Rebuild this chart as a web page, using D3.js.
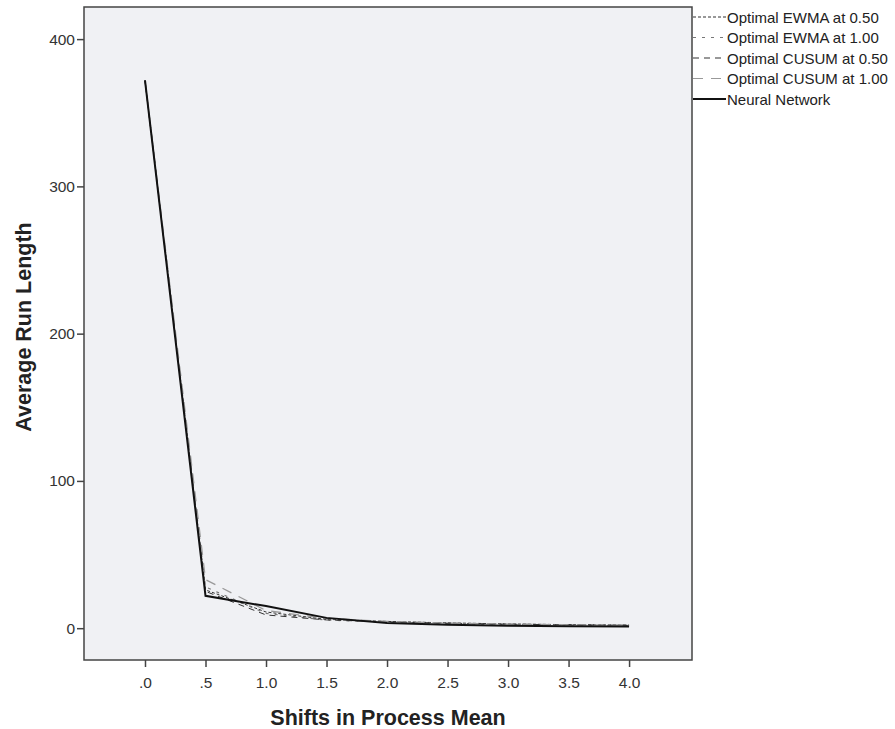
<!DOCTYPE html>
<html><head><meta charset="utf-8">
<script src="https://cdn.jsdelivr.net/npm/d3@7"></script>
<style>body{margin:0;background:#fff;} text{font-family:"Liberation Sans",Arial,sans-serif;}</style>
</head><body><svg id="c" width="895" height="729"></svg>
<script>
const shifts = [0, 0.5, 1.0, 1.5, 2.0, 2.5, 3.0, 3.5, 4.0];
const ewma050 = [372, 26, 11, 6.0, 4.6, 3.6, 2.9, 2.4, 2.1];
const ewma100 = [372, 28, 10, 5.5, 4.1, 3.1, 2.5, 2.1, 1.8];
const cusum050 = [372, 25, 9, 5.6, 4.3, 3.4, 2.7, 2.3, 2.0];
const cusum100 = [372, 33, 12, 6.6, 4.6, 3.5, 2.8, 2.3, 2.0];
const neural = [372, 22, 15, 7.0, 3.5, 2.3, 1.6, 1.3, 1.1];
const seriesNames = ["Optimal EWMA at 0.50","Optimal EWMA at 1.00","Optimal CUSUM at 0.50","Optimal CUSUM at 1.00","Neural Network"];
const xTicks = [0, 0.5, 1.0, 1.5, 2.0, 2.5, 3.0, 3.5, 4.0];
const xTickLabels = [".0", ".5", "1.0", "1.5", "2.0", "2.5", "3.0", "3.5", "4.0"];
const yTicks = [0, 100, 200, 300, 400];

const series = [
  {name: seriesNames[0], values: ewma050, color: "#333", dash: "3,2", w: 1},
  {name: seriesNames[1], values: ewma100, color: "#777", dash: "3,6", w: 1.2},
  {name: seriesNames[2], values: cusum050, color: "#333", dash: "6,5", w: 1},
  {name: seriesNames[3], values: cusum100, color: "#999", dash: "10,8", w: 1.3},
  {name: seriesNames[4], values: neural, color: "#111", dash: null, w: 2}
];

const svg = d3.select("#c");
const L = 84, R = 692, T = 7, B = 660;
const x = d3.scaleLinear().domain([-0.504, 4.52]).range([L, R]);
const y = d3.scaleLinear().domain([-21.6, 421.8]).range([B, T]);

svg.append("rect").attr("x", L).attr("y", T).attr("width", R - L).attr("height", B - T)
  .attr("fill", "#f0f1f4").attr("stroke", "#444").attr("stroke-width", 1.5);

const line = d3.line().x((d, i) => x(shifts[i])).y(d => y(d));
const g = svg.append("g");
series.forEach(s => {
  g.append("path").datum(s.values).attr("d", line).attr("fill", "none")
    .attr("stroke", s.color).attr("stroke-width", s.w)
    .attr("stroke-dasharray", s.dash);
});

// axes
const yAxis = d3.axisLeft(y).tickValues(yTicks).tickSize(7).tickPadding(2).tickFormat(d3.format("d"));
const ya = svg.append("g").attr("transform", `translate(${L},0)`).call(yAxis);
ya.select(".domain").remove();
ya.selectAll("line").attr("stroke", "#444").attr("stroke-width", 1.5);
ya.selectAll("text").attr("font-size", 15.5).attr("fill", "#333").style("font-family", "Liberation Sans, Arial, sans-serif");

const xAxis = d3.axisBottom(x).tickValues(xTicks).tickSize(7).tickPadding(10).tickFormat((d, i) => xTickLabels[i]);
const xa = svg.append("g").attr("transform", `translate(0,${B})`).call(xAxis);
xa.select(".domain").remove();
xa.selectAll("line").attr("stroke", "#444").attr("stroke-width", 1.5);
xa.selectAll("text").attr("font-size", 15.5).attr("fill", "#333").style("font-family", "Liberation Sans, Arial, sans-serif");

svg.append("text").attr("x", 388).attr("y", 725).attr("text-anchor", "middle")
  .attr("font-size", 21.5).attr("font-weight", "bold").attr("fill", "#222").text("Shifts in Process Mean");
svg.append("text").attr("transform", "translate(31,327) rotate(-90)").attr("text-anchor", "middle")
  .attr("font-size", 21.5).attr("font-weight", "bold").attr("fill", "#222").text("Average Run Length");

// legend
const lg = svg.append("g");
series.forEach((s, i) => {
  const yy = 17 + i * 20.5;
  lg.append("line").attr("x1", 693).attr("x2", 726).attr("y1", yy).attr("y2", yy)
    .attr("stroke", s.color).attr("stroke-width", s.w === 2 ? 2 : 1.2).attr("stroke-dasharray", s.dash);
  lg.append("text").attr("x", 727).attr("y", yy + 5.5).attr("font-size", 15).attr("fill", "#222").text(s.name);
});
</script></body></html>
